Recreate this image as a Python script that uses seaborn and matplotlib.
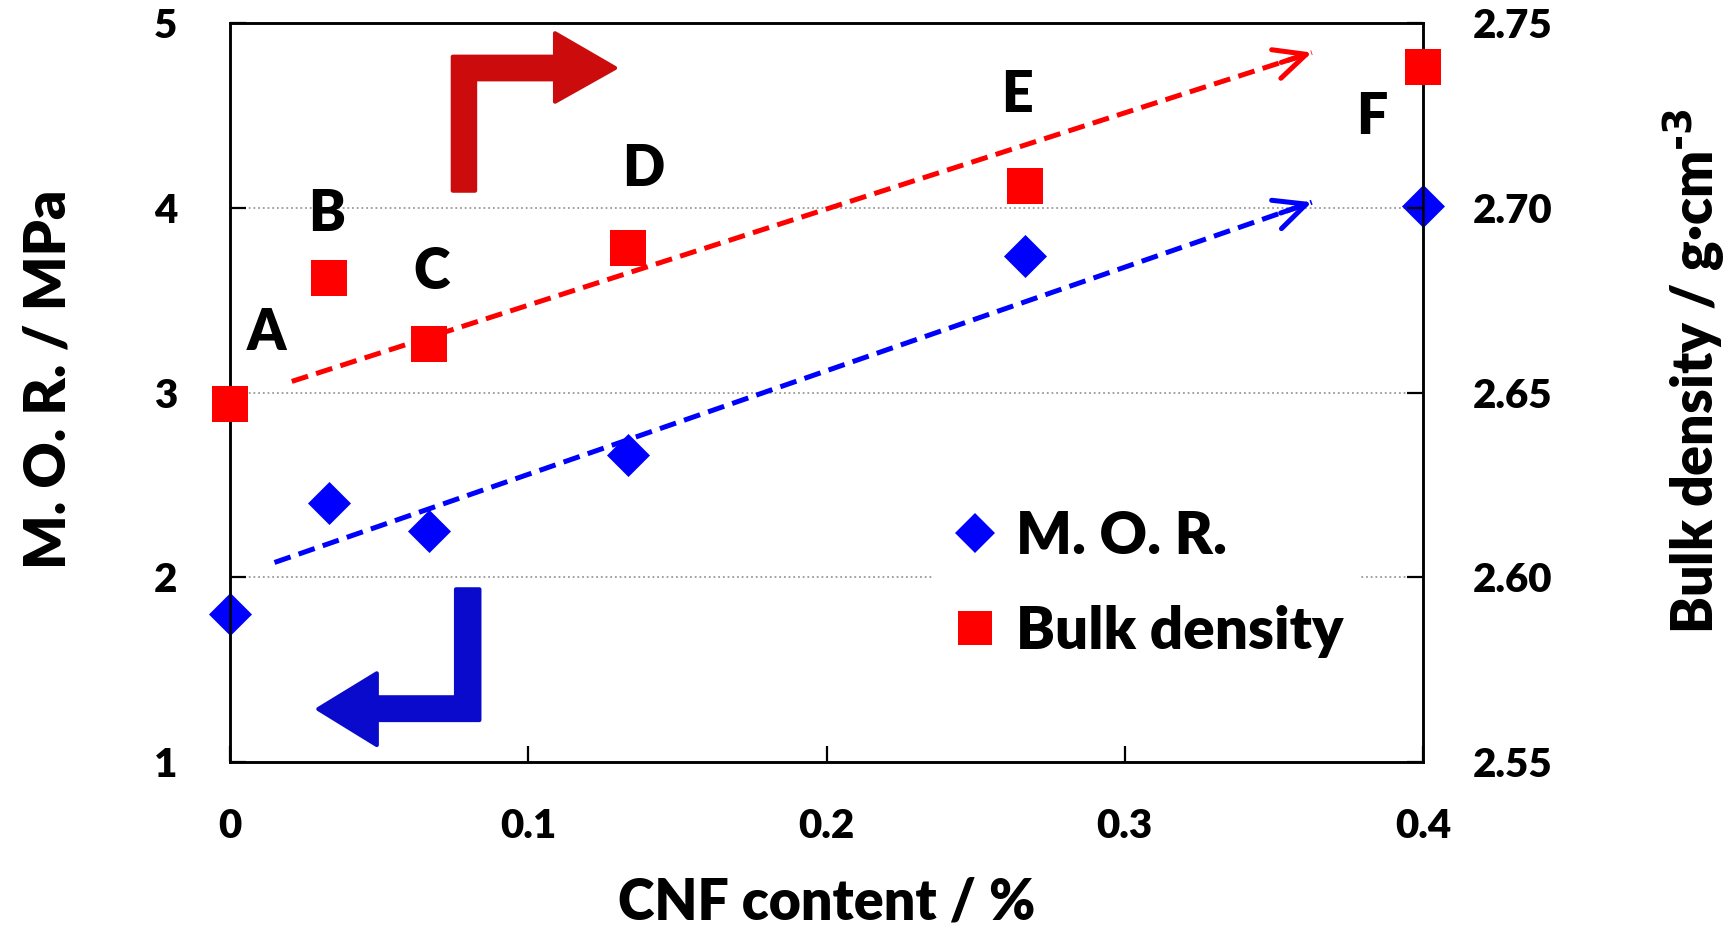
import numpy as np
import pandas as pd
import matplotlib
matplotlib.use("Agg")
import matplotlib.pyplot as plt
from matplotlib.patches import Polygon
from matplotlib.lines import Line2D
import seaborn as sns

# ---------------- data ----------------
cnf_content = [0.0, 0.0333, 0.0667, 0.1333, 0.2667, 0.4]
sample_labels = ["A", "B", "C", "D", "E", "F"]
mor_values = [1.80, 2.40, 2.25, 2.66, 3.74, 4.01]
bulk_density = [2.647, 2.681, 2.663, 2.689, 2.706, 2.738]
# trend arrows (start, end) in data units
mor_trend_x = [0.0149, 0.3627]
mor_trend_y = [2.08, 4.03]
bulk_trend_x = [0.0207, 0.3627]
bulk_trend_y = [2.653, 2.742]
x_ticks = [0, 0.1, 0.2, 0.3, 0.4]
x_tick_labels = ["0", "0.1", "0.2", "0.3", "0.4"]
mor_ticks = [1, 2, 3, 4, 5]
bulk_ticks = [2.55, 2.60, 2.65, 2.70, 2.75]

df = pd.DataFrame({"cnf": cnf_content, "mor": mor_values, "bulk": bulk_density,
                   "label": sample_labels})

sns.set_style("white")
FONT = ["Lato", "DejaVu Sans"]
plt.rcParams["font.family"] = FONT
plt.rcParams["font.weight"] = "bold"
plt.rcParams["mathtext.default"] = "regular"
for k in ["text.color", "axes.labelcolor", "xtick.color", "ytick.color",
          "xtick.labelcolor", "ytick.labelcolor"]:
    plt.rcParams[k] = "black"

fig = plt.figure(figsize=(17.35, 9.31), dpi=100)
ax = fig.add_axes([0.1326, 0.1815, 0.6876, 0.7938])
ax2 = ax.twinx()

BLUE = "#0000FF"
RED = "#FF0000"

# grid
ax.set_axisbelow(True)
ax.yaxis.grid(True, linestyle=(0, (1, 1.6)), color="#9a9a9a", lw=1.3)
ax.xaxis.grid(False)
ax2.grid(False)

# trend lines (dashed) with open arrowheads
def trend(axis, xs, ys, color):
    sns.lineplot(x=xs, y=ys, ax=axis, color=color, lw=3.6,
                 dashes=False, linestyle=(0, (3.4, 1.7)), zorder=3)
    frac = 0.97
    xb = xs[0] + frac * (xs[1] - xs[0])
    yb = ys[0] + frac * (ys[1] - ys[0])
    axis.annotate("", xy=(xs[1], ys[1]), xytext=(xb, yb),
                  arrowprops=dict(arrowstyle="->,head_length=0.42,head_width=0.2",
                                  color=color, lw=3.6, shrinkA=0, shrinkB=0,
                                  mutation_scale=54), zorder=3)

trend(ax, mor_trend_x, mor_trend_y, BLUE)
trend(ax2, bulk_trend_x, bulk_trend_y, RED)

# markers
sns.scatterplot(data=df, x="cnf", y="mor", ax=ax, marker="D", s=480,
                color=BLUE, linewidth=0, zorder=4, clip_on=False)
sns.scatterplot(data=df, x="cnf", y="bulk", ax=ax2, marker="s", s=672,
                color=RED, linewidth=0, zorder=4, clip_on=False)

# sample letters
offsets = [(26, 51), (-2, 46), (2, 52), (11, 57), (-6, 65), (-37, -36)]
for xv, yv, lab, off in zip(cnf_content, bulk_density, sample_labels, offsets):
    ax2.annotate(lab, xy=(xv, yv), xytext=off, textcoords="offset points",
                 ha="center", va="center", fontsize=40, fontweight="heavy",
                 family=FONT, color="black")

# bent arrows (decorations, axes fraction)
red_bent = [(0.1867, 0.7731), (0.1867, 0.9544), (0.2724, 0.9544), (0.2724, 0.9861),
            (0.3227, 0.9391), (0.2724, 0.8935), (0.2724, 0.9238), (0.2054, 0.9238),
            (0.2054, 0.7731)]
blue_bent = [(0.1894, 0.2337), (0.2090, 0.2337), (0.2090, 0.0568), (0.1230, 0.0568),
             (0.1230, 0.0230), (0.0740, 0.0717), (0.1230, 0.1200), (0.1230, 0.0876),
             (0.1894, 0.0876)]
for pts, col in [(red_bent, "#CC0C0C"), (blue_bent, "#0A0ACC")]:
    ax2.add_patch(Polygon(pts, closed=True, transform=ax.transAxes, facecolor=col,
                          edgecolor=col, lw=3, joinstyle="round", zorder=2))

# axes ranges and ticks
ax.set_xlim(0, 0.4)
ax.set_ylim(1, 5)
ax2.set_ylim(2.55, 2.75)
ax.set_xticks(x_ticks)
ax.set_xticklabels(x_tick_labels)
ax.set_yticks(mor_ticks)
ax.set_yticklabels([str(t) for t in mor_ticks])
ax2.set_yticks(bulk_ticks)
ax2.set_yticklabels([f"{t:.2f}" for t in bulk_ticks])

ax.tick_params(axis="both", direction="in", length=11.5, width=1.6,
               labelsize=29, color="black", labelcolor="black")
ax.tick_params(axis="x", pad=33)
ax.tick_params(axis="y", pad=38, left=True, right=False)
ax.tick_params(axis="x", bottom=True, top=False)
ax2.tick_params(axis="y", direction="in", length=11.5, width=1.6, labelsize=29,
                pad=36, right=True, left=False, color="black", labelcolor="black")
for lab in ax.get_xticklabels() + ax.get_yticklabels() + ax2.get_yticklabels():
    lab.set_fontweight("heavy")

for a in (ax, ax2):
    for sp in a.spines.values():
        sp.set_color("black")
        sp.set_linewidth(1.8)
        sp.set_visible(True)

ax.set_xlabel("CNF content / %", fontsize=40, fontweight="heavy", color="black")
ax.set_ylabel("M. O. R. / MPa", fontsize=41, fontweight="heavy", color="black")
ax2.set_ylabel("Bulk density / g\u00b7cm$^{\\text{-3}}$", fontsize=40,
               fontweight="heavy", color="black")
ax.xaxis.set_label_coords(0.5, -0.155)
ax.yaxis.set_label_coords(-0.13, 0.518)
ax2.yaxis.set_label_coords(1.20, 0.529)

# legend
handles = [Line2D([], [], marker="D", color=BLUE, linestyle="none", markersize=20,
                  markeredgewidth=0),
           Line2D([], [], marker="s", color=RED, linestyle="none", markersize=25,
                  markeredgewidth=0)]
leg = ax2.legend(handles, ["M. O. R.", "Bulk density"], loc="lower left",
                 bbox_to_anchor=(0.566, 0.078), frameon=True, fancybox=False,
                 facecolor="white", edgecolor="none", framealpha=1,
                 prop={"family": FONT, "weight": "heavy", "size": 42},
                 handlelength=0.8, handletextpad=0.3, labelspacing=0.72,
                 borderpad=0.3)
for t in leg.get_texts():
    t.set_color("black")
leg.set_zorder(10)

fig.savefig("out.png", dpi=100)
